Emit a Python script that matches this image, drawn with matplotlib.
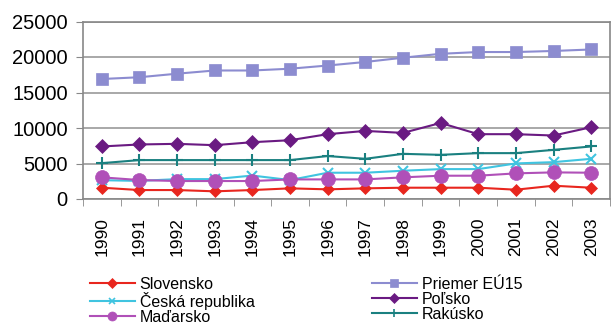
import matplotlib
matplotlib.use("Agg")
import matplotlib.pyplot as plt
from matplotlib.lines import Line2D
import numpy as np

plt.rcParams['font.family'] = ['Liberation Sans', 'DejaVu Sans']

years = ['1990', '1991', '1992', '1993', '1994', '1995', '1996', '1997',
         '1998', '1999', '2000', '2001', '2002', '2003']
slovensko = [1590, 1260, 1260, 1080, 1260, 1500, 1360, 1500, 1590, 1590, 1590, 1310, 1870, 1590]
ceska = [2650, 2550, 2800, 2800, 3300, 2670, 3700, 3700, 3980, 4210, 4210, 5010, 5190, 5660]
madarsko = [3050, 2670, 2530, 2530, 2530, 2760, 2760, 2760, 3050, 3280, 3280, 3610, 3750, 3700]
eu15 = [16900, 17150, 17650, 18100, 18100, 18350, 18800, 19300, 19900, 20450, 20700, 20700, 20850, 21060]
polsko = [7400, 7680, 7770, 7580, 8000, 8280, 9130, 9590, 9310, 10710, 9130, 9130, 8940, 10110]
rakusko = [5050, 5480, 5480, 5480, 5480, 5480, 6050, 5660, 6360, 6220, 6460, 6460, 6920, 7400]

fig = plt.figure(figsize=(6.11, 3.26), dpi=100)
ax = fig.add_axes([83/611, 1-199/326, (610-83)/611, (199-21.5)/326])

x = np.arange(len(years))
series = [
    ('Slovensko', slovensko, '#e8261e', 'D', 6),
    ('Česká republika', ceska, '#40c4e0', 'x', 7),
    ('Maďarsko', madarsko, '#b050b8', 'o', 10),
    ('Priemer EÚ15', eu15, '#8c8cd0', 's', 9),
    ('Poľsko', polsko, '#6a1a82', 'D', 7),
    ('Rakúsko', rakusko, '#1a8080', '+', 9),
]
handles = []
for name, vals, col, mk, ms in series:
    mew = 1.5 if mk in 'x+' else 0.5
    ax.plot(x, vals, color=col, marker=mk, markersize=ms, lw=1.5,
            markeredgewidth=mew, label=name)
    lms = {'D': 5, 'x': 5, 'o': 6.5, 's': 5.5, '+': 6}[mk]
    handles.append(Line2D([], [], color=col, marker=mk, markersize=lms, lw=1.5,
                          markeredgewidth=1.2 if mk in 'x+' else 0.5, label=name))

ax.set_xlim(-0.5, len(years) - 0.5)
ax.set_ylim(0, 25000)
ax.set_yticks([0, 5000, 10000, 15000, 20000, 25000])
ax.yaxis.grid(True, color='#999999', lw=1.2)
ax.set_axisbelow(True)
ax.set_xticks(x)
ax.set_xticklabels(years, rotation=90, fontsize=12.5)
ax.set_xticks(np.arange(-0.5, len(years)), minor=True)
ax.tick_params(axis='x', which='major', length=0, pad=13)
ax.tick_params(axis='x', which='minor', length=5, color='#888888')
ax.tick_params(axis='y', labelsize=14.5, length=5, color='#888888', pad=6)
for s in ax.spines.values():
    s.set_color('#888888')
    s.set_linewidth(1.2)

common = dict(loc='upper left', frameon=False, fontsize=11.5, handlelength=2.8,
              labelspacing=0.0, handletextpad=0.3, borderaxespad=0, borderpad=0)
leg1 = fig.legend(handles=handles[:3], bbox_to_anchor=(90/611, 1-277/326), **common)
leg2 = fig.legend(handles=handles[3:], bbox_to_anchor=(372/611, 1-277/326), **common)

fig.savefig('out.png', dpi=100)
